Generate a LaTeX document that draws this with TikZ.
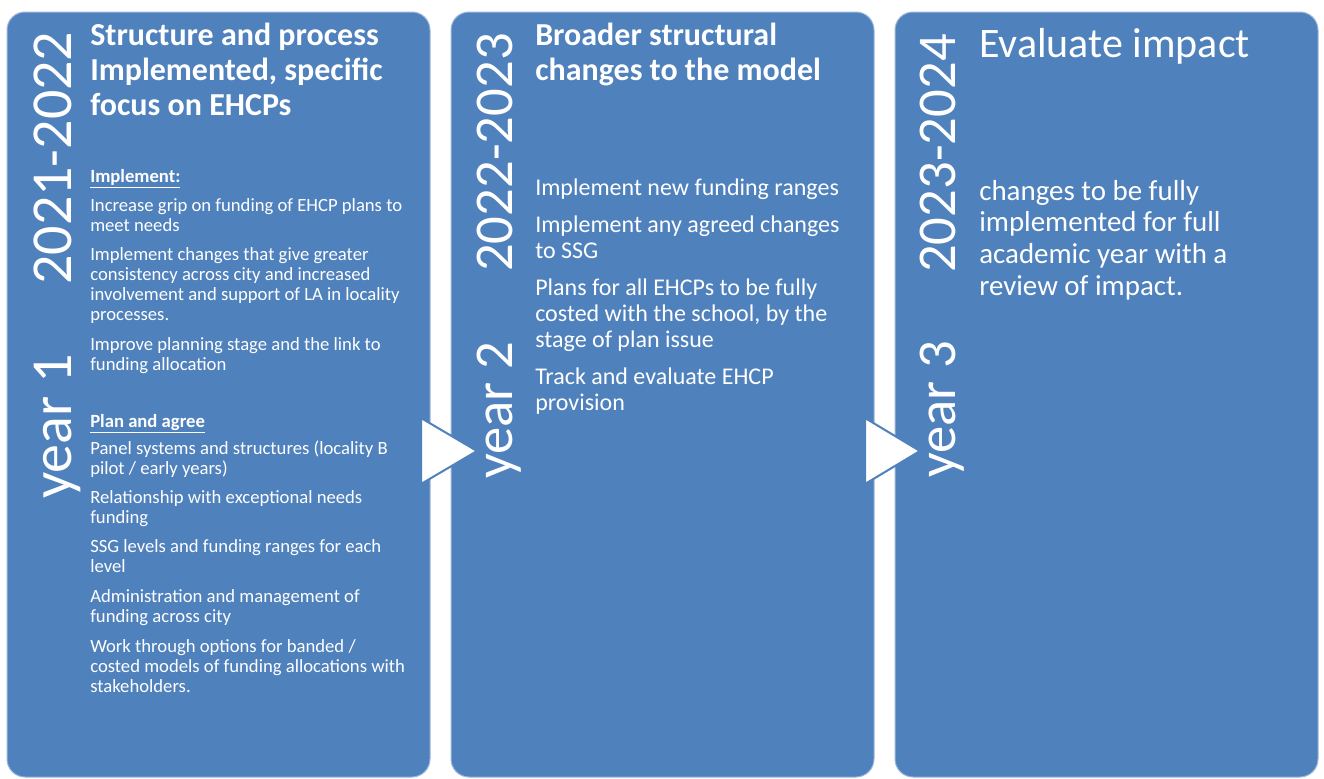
\documentclass[tikz,border=0pt]{standalone}
\usepackage{fontspec}
\setmainfont{Carlito}
\usepackage{xcolor}
\usepackage{tikz}

\definecolor{panelblue}{HTML}{4F81BD}
\definecolor{paneledge}{HTML}{9DB7DA}
\newcommand{\stack}[1]{\begin{tabular}[t]{@{}l@{}}#1\end{tabular}}

\tikzset{
    panel/.style={fill=panelblue, draw=paneledge, line width=0.75pt, rounded corners=13.5pt},
    pointer/.style={fill=white, draw=panelblue, line width=1.5pt, line join=miter},
    txt/.style={anchor=base west, inner sep=0pt, text=white},
    yearbig/.style={txt, rotate=90, font=\fontsize{43.5}{48}\selectfont},
    yearsmall/.style={txt, rotate=90, font=\fontsize{41}{46}\selectfont},
    heading/.style={txt, font=\bfseries\fontsize{24}{26.6}\selectfont},
    bodyone/.style={txt, font=\fontsize{14}{15}\selectfont},
    bodytwo/.style={txt, font=\fontsize{18}{19.5}\selectfont},
    bodythree/.style={txt, font=\fontsize{21.7}{23.8}\selectfont},
}

\begin{document}
\begin{tikzpicture}[x=0.75pt, y=-0.75pt]
    \useasboundingbox (0,0) rectangle (1324,778);

    \draw[panel] (7,12) rectangle (430,777);
    \draw[panel] (451,12) rectangle (874,777);
    \draw[panel] (895,12) rectangle (1318,777);

    \draw[pointer] (421,418) -- (477,451) -- (421,484) -- cycle;
    \draw[pointer] (865,418) -- (920,451) -- (865,484) -- cycle;

    % year 1
    \node[yearbig] (yr1) at (71,499) {year 1};
    \node[yearbig] (span1) at (71,285) {2021-2022};
    \node[heading] (head1) at (90,45) {\stack{Structure and process\\Implemented, specific\\focus on EHCPs}};
    \node[bodyone] (impl) at (90,182) {\textbf{\underline{Implement:}}};
    \node[bodyone] (grip) at (90,211) {\stack{Increase grip on funding of EHCP plans to\\meet needs}};
    \node[bodyone] (consist) at (90,260) {\stack{Implement changes that give greater\\consistency across city and increased\\involvement and support of LA in locality\\processes.}};
    \node[bodyone] (planning) at (90,350) {\stack{Improve planning stage and the link to\\funding allocation}};
    \node[bodyone] (agree) at (90,427) {\textbf{\underline{Plan and agree}}};
    \node[bodyone] (panels) at (90,454) {\stack{Panel systems and structures (locality B\\pilot / early years)}};
    \node[bodyone] (except) at (90,503) {\stack{Relationship with exceptional needs\\funding}};
    \node[bodyone] (ssg) at (90,552) {\stack{SSG levels and funding ranges for each\\level}};
    \node[bodyone] (admin) at (90,602) {\stack{Administration and management of\\funding across city}};
    \node[bodyone] (options) at (90,652) {\stack{Work through options for banded /\\costed models of funding allocations with\\stakeholders.}};

    % year 2
    \node[yearsmall] (yr2) at (512,479) {year 2};
    \node[yearsmall] (span2) at (512,272) {2022-2023};
    \node[heading] (head2) at (535,45) {\stack{Broader structural\\changes to the model}};
    \node[bodytwo] (ranges) at (535,195) {Implement new funding ranges};
    \node[bodytwo] (tossg) at (535,232) {\stack{Implement any agreed changes\\to SSG}};
    \node[bodytwo] (costed) at (535,295) {\stack{Plans for all EHCPs to be fully\\costed with the school, by the\\stage of plan issue}};
    \node[bodytwo] (track) at (535,384) {\stack{Track and evaluate EHCP\\provision}};

    % year 3
    \node[yearsmall] (yr3) at (955,478) {year 3};
    \node[yearsmall] (span3) at (955,273) {2023-2024};
    \node[txt, font=\fontsize{31.5}{36}\selectfont] (head3) at (979,57) {Evaluate impact};
    \node[bodythree] (review) at (979,200) {\stack{changes to be fully\\implemented for full\\academic year with a\\review of impact.}};
\end{tikzpicture}
\end{document}
